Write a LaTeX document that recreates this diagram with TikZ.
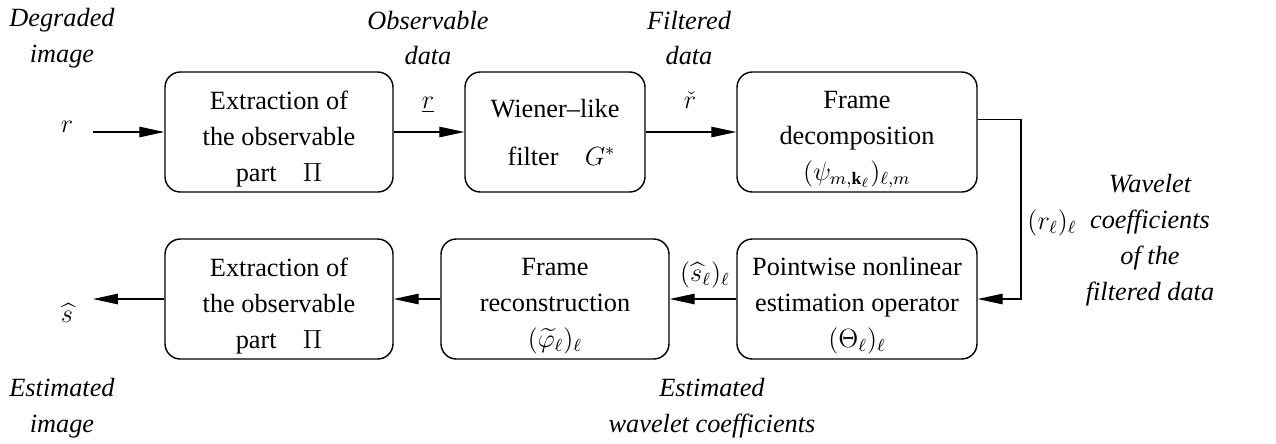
\documentclass[tikz,border=0pt]{standalone}
\usepackage{fontspec}
\setmainfont{Liberation Serif}
\usepackage{amsmath}
\usetikzlibrary{arrows.meta}
\newcommand\tallfirst{\rule{0pt}{14.5pt}}
\begin{document}
\begin{tikzpicture}[x=0.4563pt,y=-0.4563pt,
  box/.style={draw,line width=0.65pt,rounded corners=7pt,align=center,
    minimum height=120*0.4563pt,inner sep=0pt,
    font=\fontsize{12}{16.4}\selectfont},
  arr/.style={line width=0.5pt,-{Triangle[length=11.4pt,width=4.8pt]}},
  lab/.style={align=center,font=\fontsize{12}{16.4}\selectfont\itshape},
  sym/.style={font=\fontsize{12}{14}\selectfont}]
\useasboundingbox (0,0) rectangle (1276,443);
% boxes
\node[box,minimum width=228*0.4563pt] (B1) at (279,132) {\tallfirst Extraction of\\the observable\\part\quad $\Pi$};
\node[box,minimum width=180*0.4563pt,font=\fontsize{12}{21.9}\selectfont] (B2) at (555,132) {Wiener--like\\\ \ filter\quad $G^*$};
\node[box,minimum width=240*0.4563pt] (B3) at (857,132) {\tallfirst Frame\\decomposition\\$(\psi_{m,\mathbf{k}_\ell})_{\ell,m}$};
\node[box,minimum width=240*0.4563pt] (B4) at (857,299) {\tallfirst Pointwise nonlinear\\estimation operator\\$(\Theta_\ell)_\ell$};
\node[box,minimum width=228*0.4563pt] (B5) at (555,299) {\tallfirst Frame\\reconstruction\\$(\widetilde{\varphi}_\ell)_\ell$};
\node[box,minimum width=228*0.4563pt] (B6) at (279,299) {\tallfirst Extraction of\\the observable\\part\quad $\Pi$};
% free ends
\coordinate (rin) at (93,132);
\coordinate (sout) at (93,299);
\coordinate (cR) at (1021,200);
% symbols
\node[sym] (r) at (67,127) {$r$};
\node[sym] (rbar) at (428,105) {$\underline{r}$};
\node[sym] (rcheck) at (690,100) {$\check{r}$};
\node[sym] (rl) at (1052,223) {$(r_\ell)_\ell$};
\node[sym] (shl) at (705,275) {$(\widehat{s}_\ell)_\ell$};
\node[sym] (sh) at (67,313) {$\widehat{s}$};
% italic labels
\node[lab] (L1) at (62,38) {Degraded\\image};
\node[lab] (L2) at (428,38) {Observable\\data};
\node[lab] (L3) at (689,38) {Filtered\\data};
\node[lab] (L4) at (1150,240) {Wavelet\\coefficients\\of the\\filtered data};
\node[lab] (L5) at (712,408) {Estimated\\wavelet coefficients};
\node[lab] (L6) at (62,408) {Estimated\\image};
% connectors
\draw[arr] (rin) -- (B1);
\draw[arr] (B1) -- (B2);
\draw[arr] (B2) -- (B3);
\draw[arr] (B3.6) -- (B3.6 -| cR) -- (B4.east -| cR) -- (B4.east);
\draw[arr] (B4) -- (B5);
\draw[arr] (B5) -- (B6);
\draw[arr] (B6) -- (sout);
\end{tikzpicture}
\end{document}
